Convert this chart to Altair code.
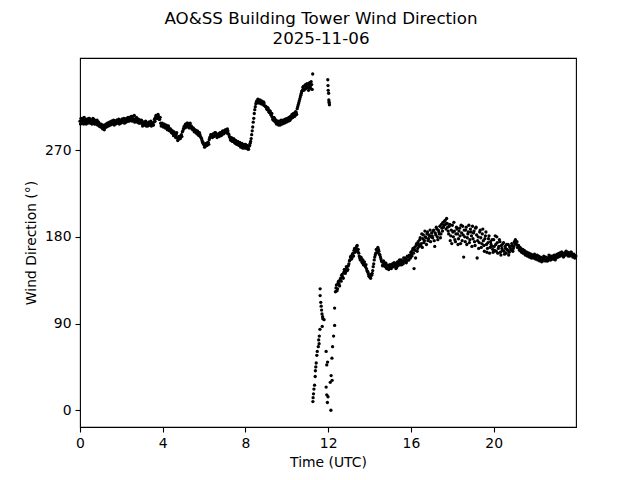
import altair as alt
import pandas as pd

TITLE = ["AO&SS Building Tower Wind Direction", "2025-11-06"]
X_TICKS = [0, 4, 8, 12, 16, 20]
Y_TICKS = [0, 90, 180, 270]

# wind direction (deg), 3-minute samples, 20 per hour (on the 3-minute mark)
h00 = [300, 303, 298, 301, 304, 299, 297, 302, 300, 303, 298, 301, 299, 302, 297, 300, 298, 296, 299, 295]
h01 = [294, 296, 292, 295, 293, 297, 295, 298, 296, 299, 297, 300, 298, 296, 300, 298, 301, 299, 297, 300]
h02 = [299, 302, 300, 298, 301, 303, 300, 302, 304, 301, 303, 305, 302, 299, 301, 303, 300, 298, 301, 299]
h03 = [298, 296, 299, 297, 295, 298, 296, 299, 297, 295, 298, 296, 302, 304, 306, 303, 305, 302, 298, 296]
h04 = [297, 295, 296, 293, 294, 292, 293, 290, 291, 288, 287, 289, 285, 286, 283, 281, 284, 282, 286, 289]
h05 = [292, 295, 297, 294, 298, 295, 296, 293, 294, 291, 292, 289, 290, 287, 289, 285, 286, 283, 280, 278]
h06 = [276, 274, 277, 275, 278, 281, 284, 286, 283, 287, 285, 288, 286, 284, 287, 285, 288, 286, 290, 287]
h07 = [289, 291, 288, 290, 286, 283, 280, 282, 279, 281, 277, 279, 276, 278, 275, 277, 274, 276, 273, 275]
h08 = [276, 272, 274, 271, 275, 279, 286, 294, 303, 312, 318, 321, 323, 319, 322, 318, 320, 317, 319, 316]
h09 = [315, 312, 313, 309, 310, 306, 304, 301, 303, 299, 297, 300, 296, 299, 297, 300, 298, 301, 299, 302]
h10 = [300, 302, 304, 301, 305, 307, 304, 308, 306, 309, 313, 317, 321, 325, 329, 332, 336, 333, 338, 335]
h13 = [152, 156, 160, 158, 163, 166, 164, 168, 171, 167, 160, 156, 158, 153, 151, 154, 149, 147, 144, 141]
h14 = [139, 137, 140, 145, 152, 159, 163, 166, 169, 165, 161, 157, 154, 151, 153, 149, 152, 148, 150, 147]
h15 = [150, 147, 152, 149, 153, 151, 148, 154, 152, 156, 153, 151, 155, 158, 154, 157, 155, 159, 156, 160]
h16 = [164, 160, 168, 147, 166, 171, 165, 175, 170, 179, 173, 169, 182, 176, 180, 172, 185, 178, 181, 175]
h17 = [184, 179, 187, 170, 182, 188, 177, 185, 191, 183, 189, 195, 192, 197, 188, 194, 186, 191, 176, 187]
h18 = [192, 180, 186, 175, 190, 183, 178, 189, 173, 184, 191, 159, 180, 187, 172, 183, 192, 177, 185, 170]
h19 = [178, 186, 171, 190, 158, 180, 174, 187, 169, 183, 176, 165, 181, 172, 168, 178, 163, 175, 170, 167]
h20 = [177, 166, 172, 180, 163, 170, 175, 161, 168, 173, 165, 170, 163, 167, 172, 164, 169, 166, 171, 168]
h21 = [175, 177, 172, 169, 171, 166, 168, 164, 167, 163, 165, 162, 164, 161, 163, 160, 162, 159, 161, 160]
h22 = [160, 158, 161, 157, 159, 156, 158, 155, 157, 159, 156, 158, 155, 157, 159, 156, 158, 160, 157, 159]
h23 = [161, 159, 162, 160, 163, 161, 164, 162, 160, 163, 165, 162, 160, 163, 161, 164, 162, 160, 161, 159]

# in-between samples (1.5 minutes after each of the above)
h00b = [297, 300, 303, 297, 300, 302, 300, 298, 303, 299, 301, 297, 303, 299, 301, 297, 301, 299, 295, 297]
h01b = [297, 293, 296, 291, 296, 294, 298, 295, 299, 296, 300, 297, 301, 299, 297, 301, 298, 302, 300, 298]
h02b = [302, 299, 303, 301, 299, 301, 304, 300, 302, 305, 300, 302, 306, 302, 304, 299, 302, 301, 298, 301]
h03b = [295, 299, 296, 300, 298, 295, 299, 296, 300, 297, 296, 299, 300, 306, 303, 307, 302, 304, 295, 298]
h04b = [294, 297, 293, 296, 291, 295, 290, 292, 288, 290, 285, 287, 283, 288, 280, 284, 282, 285, 284, 290]
h05b = [294, 293, 296, 298, 296, 293, 298, 295, 292, 293, 289, 291, 288, 290, 286, 288, 284, 282, 278, 276]
h06b = [273, 276, 275, 278, 276, 283, 286, 284, 286, 284, 288, 286, 283, 286, 284, 288, 285, 289, 287, 290]
h07b = [291, 288, 292, 287, 284, 281, 283, 279, 282, 278, 280, 276, 279, 275, 278, 273, 277, 272, 276, 272]
h08b = [273, 275, 271, 274, 277, 282, 290, 299, 308, 315, 320, 319, 321, 321, 319, 321, 318, 320, 316, 315]
h09b = [313, 314, 310, 311, 307, 308, 302, 304, 300, 301, 299, 297, 300, 296, 301, 297, 301, 298, 302, 299]
h10b = [303, 300, 302, 305, 303, 305, 308, 305, 310, 307, 315, 319, 323, 327, 331, 335, 332, 337, 334, 339]
h13b = [155, 159, 157, 162, 160, 168, 166, 170, 165, 163, 158, 159, 154, 156, 153, 150, 151, 145, 143, 139]
h14b = [138, 141, 142, 149, 156, 161, 167, 164, 167, 162, 159, 155, 150, 155, 150, 153, 147, 150, 146, 151]
h15b = [148, 151, 149, 153, 150, 147, 153, 150, 155, 151, 156, 154, 152, 155, 158, 153, 160, 156, 161, 158]
h16b = [162, 166, 163, 169, 158, 173, 168, 172, 177, 171, 183, 178, 174, 186, 179, 183, 176, 182, 187, 180]
h17b = [181, 186, 176, 184, 190, 180, 187, 183, 179, 193, 186, 190, 196, 193, 199, 190, 183, 193, 181, 173]
h18b = [185, 195, 177, 183, 188, 172, 186, 181, 192, 176, 182, 187, 175, 190, 179, 185, 174, 188, 181, 191]
h19b = [184, 175, 189, 182, 176, 168, 185, 179, 173, 188, 171, 178, 185, 164, 174, 181, 169, 172, 177, 164]
h20b = [170, 181, 165, 174, 168, 177, 164, 171, 166, 174, 162, 168, 172, 166, 161, 170, 167, 173, 165, 170]
h21b = [173, 174, 175, 171, 168, 169, 165, 167, 163, 166, 161, 164, 160, 163, 159, 162, 158, 161, 158, 162]
h22b = [157, 160, 156, 160, 155, 159, 154, 158, 160, 155, 159, 155, 158, 161, 156, 160, 157, 158, 161, 156]
h23b = [158, 162, 159, 163, 160, 164, 161, 159, 163, 161, 162, 164, 162, 160, 164, 161, 159, 162, 158, 160]

# partial hours around the wind shift
h11_upper = [337, 332, 340, 334, 338, 349]                                     # 11:00 - 11:15
h11_upper_b = [335, 339, 336, 341, 333]                                        # 11:01 - 11:13
h12_lower = [123, 130, 126, 134, 129, 137, 140, 138, 143, 146, 144, 148, 146]  # 12:21 - 12:57
h12_lower_b = [127, 124, 132, 131, 135, 134, 141, 137, 146, 142, 149, 145, 150]

# scattered 1-minute points during the shift (11:15 - 12:20)
shift_times = [11.98, 11.99, 12.00, 12.02, 12.03, 12.04, 12.05, 12.06,
               11.26, 11.27, 11.29, 11.31, 11.34, 11.37, 11.38, 11.40, 11.42,
               11.45, 11.47, 11.52, 11.54, 11.56, 11.57, 11.60, 11.64, 11.61,
               11.61, 11.66, 11.68, 11.70, 11.71, 11.73, 11.74, 11.80,
               11.90, 11.90, 11.93, 11.93, 11.96, 11.97, 11.99, 12.10, 12.13,
               12.14, 12.18, 12.19, 12.21, 12.26, 12.31, 12.31]
shift_dirs = [343, 337, 332, 329, 322, 320, 319, 317,
              9, 13, 17, 22, 26, 35, 41, 45, 49,
              57, 61, 66, 73, 69, 77, 84, 112, 119,
              126, 108, 104, 100, 87, 97, 95, 94,
              24, 61, 16, 47, 8, 50, 14, 29, 0,
              36, 54, 31, 66, 77, 88, 106]

times, dirs = [], []
main_rows = [(0, h00), (1, h01), (2, h02), (3, h03), (4, h04), (5, h05),
             (6, h06), (7, h07), (8, h08), (9, h09), (10, h10),
             (13, h13), (14, h14), (15, h15), (16, h16), (17, h17),
             (18, h18), (19, h19), (20, h20), (21, h21), (22, h22), (23, h23)]
mid_rows = [(0, h00b), (1, h01b), (2, h02b), (3, h03b), (4, h04b), (5, h05b),
            (6, h06b), (7, h07b), (8, h08b), (9, h09b), (10, h10b),
            (13, h13b), (14, h14b), (15, h15b), (16, h16b), (17, h17b),
            (18, h18b), (19, h19b), (20, h20b), (21, h21b), (22, h22b), (23, h23b)]
for h, vals in main_rows:
    for k, v in enumerate(vals):
        times.append(h + k / 20)
        dirs.append(v)
for h, vals in mid_rows:
    for k, v in enumerate(vals):
        times.append(h + k / 20 + 1 / 40)
        dirs.append(v)
for k, v in enumerate(h11_upper):
    times.append(11 + k / 20)
    dirs.append(v)
for k, v in enumerate(h11_upper_b):
    times.append(11 + k / 20 + 1 / 40)
    dirs.append(v)
for k, v in enumerate(h12_lower):
    times.append(12 + (k + 7) / 20)
    dirs.append(v)
for k, v in enumerate(h12_lower_b):
    times.append(12 + (k + 7) / 20 + 1 / 40)
    dirs.append(v)
times += shift_times
dirs += shift_dirs

df = pd.DataFrame({"time": times, "dir": dirs})

FONT = "DejaVu Sans"

chart = alt.Chart(df).mark_circle(size=11, color="black", opacity=1).encode(
    x=alt.X("time:Q",
            scale=alt.Scale(domain=[0, 23.98], nice=False, zero=False),
            axis=alt.Axis(values=X_TICKS, title="Time (UTC)", grid=False,
                          format="d", labelFlush=False)),
    y=alt.Y("dir:Q",
            scale=alt.Scale(domain=[-17.4, 365.6], nice=False, zero=False),
            axis=alt.Axis(values=Y_TICKS, title="Wind Direction (°)", grid=False,
                          format="d", labelFlush=False)),
).properties(
    width=496,
    height=369,
    autosize=alt.AutoSizeParams(type="none"),
    padding={"left": 72, "top": 50, "right": 56, "bottom": 45},
    title=alt.TitleParams(text=TITLE, font=FONT, fontSize=16.7, fontWeight="normal",
                          color="black", anchor="middle", lineHeight=20,
                          offset=10, dx=-7),
).configure_view(
    stroke="black", strokeWidth=1.1
).configure_axis(
    labelFont=FONT, titleFont=FONT, labelFontSize=13.9, titleFontSize=13.9,
    labelColor="black", titleColor="black", titleFontWeight="normal",
    domain=False, tickColor="black", tickSize=5, tickWidth=1.1,
    labelPadding=4,
).configure_axisY(
    titlePadding=6
).configure_axisX(
    titlePadding=6
)

chart.save("out.html", embed_options={"renderer": "svg", "actions": False})
